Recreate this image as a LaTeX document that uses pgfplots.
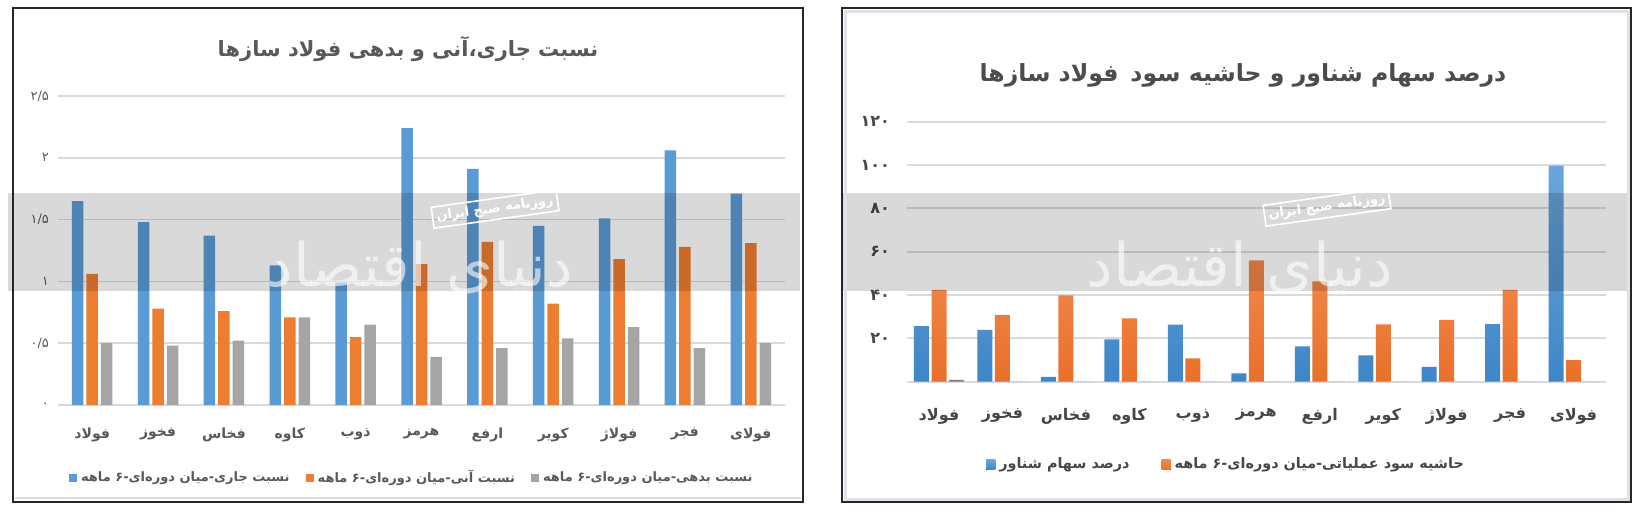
\documentclass[border=0pt]{standalone}
\usepackage{pgfplots}
\pgfplotsset{compat=1.18}
\usepackage{fontspec}
\setmainfont{DejaVu Sans}
\newfontfamily\arabicfont[Script=Arabic]{DejaVu Sans}
\TeXXeTstate=1
\newcommand{\fa}[1]{{\arabicfont\beginR #1\endR}}
\definecolor{cblue}{HTML}{5B9BD5}
\definecolor{corange}{HTML}{ED7D31}
\definecolor{cgray}{HTML}{A5A5A5}
\definecolor{ctext}{HTML}{595959}
\definecolor{cgrid}{HTML}{D9D9D9}
\definecolor{cgridb}{HTML}{D6DAE2}
\definecolor{btop}{HTML}{6AA6DC}
\definecolor{bbot}{HTML}{3F86C8}
\definecolor{otop}{HTML}{F2884A}
\definecolor{obot}{HTML}{E8702B}
\begin{document}
\begin{tikzpicture}
\useasboundingbox (0,0) rectangle (821pt,-258pt);
% ---------------- left chart ----------------
\begin{axis}[
  at={(29pt,-202.5pt)}, anchor=south west,
  scale only axis, width=363.5pt, height=154.5pt,
  xmin=-0.52, xmax=10.52, ymin=0, ymax=2.5,
  axis line style={draw=none},
  ytick={0,0.5,1,1.5,2,2.5},
  yticklabels={\fa{۰},\fa{۰/۵},\fa{۱},\fa{۱/۵},\fa{۲},\fa{۲/۵}},
  yticklabel style={font=\fontsize{6.5}{7}\selectfont, text=ctext, xshift=-1pt},
  xtick={0,...,10},
  xticklabels={\fa{فولاد},\fa{فخوز},\fa{فخاس},\fa{کاوه},\fa{ذوب},\fa{هرمز},\fa{ارفع},\fa{کویر},\fa{فولاژ},\fa{فجر},\fa{فولای}},
  xticklabel style={font=\fontsize{7}{8}\selectfont\bfseries, text=ctext, yshift=-8pt},
  major tick length=0pt,
  ymajorgrids, grid style={cgrid, line width=0.85pt},
  legend columns=3,
  legend style={draw=none, fill=none, at={(0.488,-0.236)}, anchor=center,
    font=\fontsize{6.5}{7}\selectfont\bfseries, text=ctext,
    /tikz/every even column/.append style={column sep=6pt}},
  legend image code/.code={\fill[#1] (0pt,-2pt) rectangle (4pt,2pt);},
]
\addplot[ybar, bar width=5.75pt, bar shift=-7.25pt, fill=cblue, draw=none] coordinates {
(0,1.65) (1,1.48) (2,1.37) (3,1.13) (4,0.99) (5,2.24) (6,1.91) (7,1.45) (8,1.51) (9,2.06) (10,1.71)};
\addlegendentry{\fa{نسبت جاری-میان دوره‌ای-۶ ماهه}}
\addplot[ybar, bar width=5.75pt, bar shift=0pt, fill=corange, draw=none] coordinates {
(0,1.06) (1,0.78) (2,0.76) (3,0.71) (4,0.55) (5,1.14) (6,1.32) (7,0.82) (8,1.18) (9,1.28) (10,1.31)};
\addlegendentry{\fa{نسبت آنی-میان دوره‌ای-۶ ماهه}}
\addplot[ybar, bar width=5.75pt, bar shift=7.25pt, fill=cgray, draw=none] coordinates {
(0,0.50) (1,0.48) (2,0.52) (3,0.71) (4,0.65) (5,0.39) (6,0.46) (7,0.54) (8,0.63) (9,0.46) (10,0.50)};
\addlegendentry{\fa{نسبت بدهی-میان دوره‌ای-۶ ماهه}}
\end{axis}
% ---------------- right chart ----------------
\begin{axis}[
  at={(453.5pt,-190.85pt)}, anchor=south west,
  scale only axis, width=349.5pt, height=130pt,
  xmin=-0.504, xmax=10.51, ymin=0, ymax=120,
  axis line style={draw=none},
  ytick={0,20,40,60,80,100,120},
  yticklabels={,\fa{۲۰},\fa{۴۰},\fa{۶۰},\fa{۸۰},\fa{۱۰۰},\fa{۱۲۰}},
  yticklabel style={font=\fontsize{8}{9}\selectfont\bfseries, text=ctext!80!black, xshift=-5pt},
  xtick={0,...,10},
  xticklabels={\fa{فولاد},\fa{فخوز},\fa{فخاس},\fa{کاوه},\fa{ذوب},\fa{هرمز},\fa{ارفع},\fa{کویر},\fa{فولاژ},\fa{فجر},\fa{فولای}},
  xticklabel style={font=\fontsize{8}{9}\selectfont\bfseries, text=ctext!80!black, yshift=-10pt},
  major tick length=0pt,
  ymajorgrids, grid style={cgridb, line width=0.9pt},
  legend columns=2,
  legend style={draw=none, fill=none, at={(0.458,-0.32)}, anchor=center,
    font=\fontsize{7.2}{8}\selectfont\bfseries, text=ctext!80!black,
    /tikz/every even column/.append style={column sep=14pt}},
  legend image code/.code={\fill[#1] (0pt,-2.5pt) rectangle (4.5pt,2.5pt);},
]
\addplot[ybar, bar width=7.5pt, bar shift=-8.75pt, top color=btop, bottom color=bbot, draw=none] coordinates {
(0,25.7) (1,23.9) (2,2.2) (3,19.5) (4,26.3) (5,3.8) (6,16.3) (7,12.2) (8,6.9) (9,26.6) (10,99.7)};
\addlegendentry{\fa{درصد سهام شناور}}
\addplot[ybar, bar width=7.5pt, bar shift=0pt, top color=otop, bottom color=obot, draw=none] coordinates {
(0,42.4) (1,30.8) (2,39.9) (3,29.2) (4,10.8) (5,56.0) (6,46.3) (7,26.5) (8,28.5) (9,42.4) (10,10.0)};
\addlegendentry{\fa{حاشیه سود عملیاتی-میان دوره‌ای-۶ ماهه}}
\addplot[ybar, bar width=7.5pt, bar shift=8.75pt, fill=gray, draw=none, forget plot] coordinates {
(0,0.8) (1,0) (2,0) (3,0) (4,0) (5,0) (6,0) (7,0) (8,0) (9,0) (10,0)};
\end{axis}
% ---------------- overlays (pixel coords) ----------------
\begin{scope}[x=0.5pt, y=-0.5pt]
  % watermark band
  \fill[black, opacity=0.15] (8,193) rectangle (800,291);
  \fill[black, opacity=0.15] (842,193) rectangle (1631,291);
  % watermark calligraphy
  \node[white, opacity=0.6, font=\fontsize{30}{34}\selectfont] at (420,268) {\fa{دنیای اقتصاد}};
  \node[white, opacity=0.6, font=\fontsize{30}{34}\selectfont] at (1240,268) {\fa{دنیای اقتصاد}};
  \node[draw=white, line width=0.8pt, text=white, rotate=8, inner sep=2pt, font=\fontsize{6.5}{7}\selectfont\bfseries] at (495,209) {\fa{روزنامه صبح ایران}};
  \node[draw=white, line width=0.8pt, text=white, rotate=8, inner sep=2pt, font=\fontsize{6.5}{7}\selectfont\bfseries] at (1327,207) {\fa{روزنامه صبح ایران}};
  % titles
  \node[text=ctext, font=\fontsize{10.5}{12}\selectfont\bfseries] at (408,49) {\fa{نسبت جاری،آنی و بدهی فولاد سازها}};
  \node[text=ctext!85!black, font=\fontsize{11.8}{14}\selectfont\bfseries] at (1243,75) {\fa{درصد سهام شناور و حاشیه سود\hspace{0.5em}فولاد سازها}};
  % frames
  \draw[cgrid, line width=1.2pt] (15,498) -- (801,498);
  \draw[black!85, line width=1pt] (13,8) rectangle (803,502);
  \draw[cgridb!80, line width=1.5pt] (845,11) rectangle (1628,499);
  \draw[black!85, line width=1pt] (842,8) rectangle (1631,502);
\end{scope}
\end{tikzpicture}
\end{document}
